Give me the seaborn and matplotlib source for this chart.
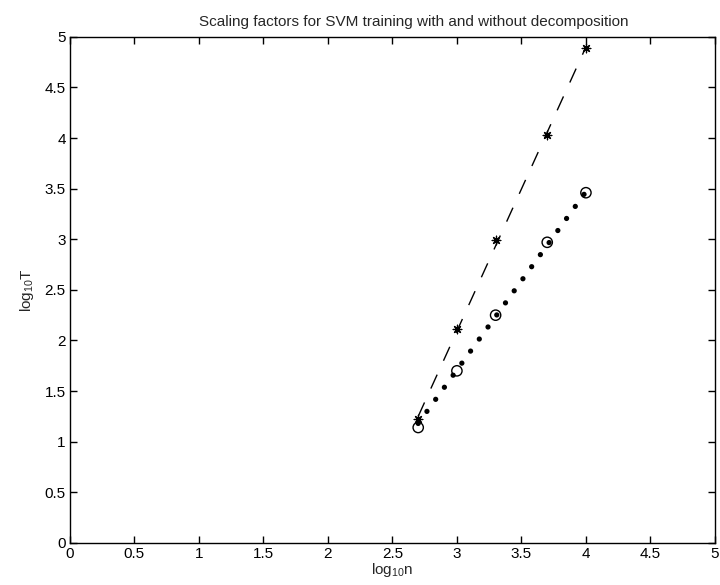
import numpy as np
import pandas as pd
import matplotlib
matplotlib.use("Agg")
import matplotlib.pyplot as plt
import seaborn as sns

# log10 of training set sizes
log_n = [2.7, 3.0, 3.3, 3.7, 4.0]
# log10 of training time, without decomposition (stars) and with decomposition (circles)
t_full = [1.22, 2.11, 2.99, 4.03, 4.89]
t_decomp = [1.14, 1.70, 2.25, 2.97, 3.46]

# fitted lines, end points
fit_x = [2.7, 4.0]
fit_full = [1.25, 4.90]
fit_decomp = [1.18, 3.47]

pts = pd.DataFrame({"n": log_n, "full": t_full, "decomp": t_decomp})
fits = pd.DataFrame({"n": fit_x, "full": fit_full, "decomp": fit_decomp})

sns.set_style("ticks")
plt.rcParams["font.family"] = ["Liberation Sans", "DejaVu Sans"]
plt.rcParams["mathtext.fontset"] = "custom"
plt.rcParams["mathtext.rm"] = "Liberation Sans"

fig = plt.figure(figsize=(7.2, 5.85), dpi=100)
ax = fig.add_axes([0.097, 0.072, 0.896, 0.865])

sns.lineplot(data=fits, x="n", y="full", ax=ax, color="black", linewidth=1.0,
             linestyle=(0, (11, 11)))
sns.lineplot(data=fits, x="n", y="decomp", ax=ax, color="black", linewidth=3.8,
             linestyle=(0, (0.01, 2.81)), dash_capstyle="round")

sns.scatterplot(data=pts, x="n", y="full", ax=ax, marker=(8, 2, 0), s=38,
                color="black", linewidth=0.9, edgecolor="black", zorder=3)
sns.scatterplot(data=pts, x="n", y="decomp", ax=ax, marker="o", s=55,
                facecolor="none", edgecolor="black", linewidth=1.0, zorder=3)

ticks = np.arange(0, 5.01, 0.5)
ax.set_xlim(0, 5)
ax.set_ylim(0, 5)
ax.set_xticks(ticks)
ax.set_yticks(ticks)
ax.set_xticklabels([f"{t:g}" for t in ticks])
ax.set_yticklabels([f"{t:g}" for t in ticks])
ax.tick_params(direction="in", top=True, right=True, length=5, width=1,
               labelsize=11, colors="black", pad=3)
for s in ax.spines.values():
    s.set_visible(True)
    s.set_linewidth(1.0)
    s.set_color("black")

ax.set_xlabel(r"$\mathregular{log_{10}n}$", fontsize=11, labelpad=0)
ax.set_ylabel(r"$\mathregular{log_{10}T}$", fontsize=11, labelpad=6)
ax.set_title("Scaling factors for SVM training with and without decomposition",
             fontsize=11, x=0.533, pad=8)

fig.savefig("out.png", dpi=100)
